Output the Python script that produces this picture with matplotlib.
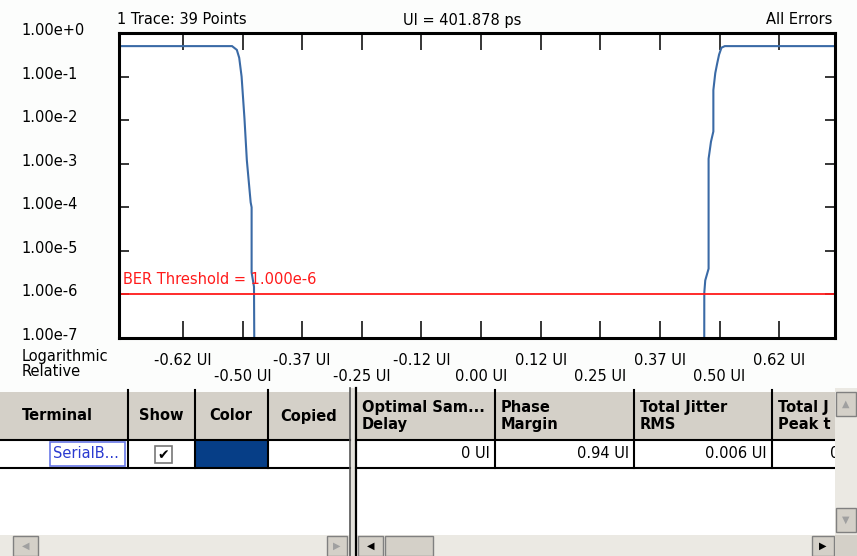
import numpy as np
import matplotlib
matplotlib.use("Agg")
import matplotlib.pyplot as plt
import matplotlib.transforms as mtransforms
from matplotlib.patches import Rectangle

# bathtub trace (one trace)
x_ui = [-0.759, -0.522, -0.512, -0.507, -0.502, -0.496, -0.491, -0.483,
        -0.481, -0.481, -0.476, -0.473, 0.4675, 0.468, 0.470, 0.477, 0.477,
        0.482, 0.487, 0.487, 0.491, 0.495, 0.499, 0.504, 0.511, 0.742]
ber = [0.5, 0.5, 0.41, 0.27, 0.10, 1.1e-2, 1.2e-3, 1.3e-4,
       1.0e-4, 3.2e-6, 1.5e-6, 1e-12, 1e-12, 1.1e-6, 2.1e-6, 3.9e-6, 1.3e-3,
       3.2e-3, 5.5e-3, 4.9e-2, 0.12, 0.20, 0.32, 0.46, 0.5, 0.5]
ber_threshold = 1e-6

x_ticks = [-0.625, -0.5, -0.375, -0.25, -0.125, 0.0, 0.125, 0.25, 0.375, 0.5, 0.625]
x_tick_labels = ["-0.62 UI", "-0.50 UI", "-0.37 UI", "-0.25 UI", "-0.12 UI", "0.00 UI",
                 "0.12 UI", "0.25 UI", "0.37 UI", "0.50 UI", "0.62 UI"]
y_ticks = [1e0, 1e-1, 1e-2, 1e-3, 1e-4, 1e-5, 1e-6, 1e-7]
y_tick_labels = ["1.00e+0", "1.00e-1", "1.00e-2", "1.00e-3", "1.00e-4",
                 "1.00e-5", "1.00e-6", "1.00e-7"]

# table contents
col_edges = [0, 128, 195, 268, 350]          # left pane
col_edges_r = [356, 495, 634, 772, 835]      # right pane
headers_left = ["Terminal", "Show", "Color", "Copied"]
headers_right = ["Optimal Sam...\nDelay", "Phase\nMargin", "Total Jitter\nRMS", "Total J\nPeak t"]
row_values = ["0 UI", "0.94 UI", "0.006 UI", "0"]
terminal_name = "SerialB..."

FS = 10.5
W, H = 857, 556
fig = plt.figure(figsize=(W / 100, H / 100), dpi=100)
fig.patch.set_facecolor("#fcfdfc")

# overlay axes in pixel coords for the surrounding widgets
ui = fig.add_axes([0, 0, 1, 1], zorder=0)
ui.set_xlim(0, W)
ui.set_ylim(H, 0)
ui.axis("off")

# main plot
L, R, T, B = 119, 835, 33, 338
ax = fig.add_axes([L / W, 1 - B / H, (R - L) / W, (B - T) / H], zorder=2)
ax.plot(x_ui, ber, color="#3a6aa6", lw=1.5, solid_joinstyle="miter")
ax.axhline(ber_threshold, color="#ff1a1a", lw=1.3)
ax.text(0.005, ber_threshold * 1.5, "BER Threshold = 1.000e-6", color="#ff1a1a",
        fontsize=FS, transform=ax.get_yaxis_transform(), va="bottom", ha="left")
ax.set_yscale("log")
ax.set_ylim(1e-7, 1e0)
ax.set_xlim(-0.759, 0.742)
ax.minorticks_off()
for s in ax.spines.values():
    s.set_linewidth(2.2)

ax.set_xticks(x_ticks)
ax.set_xticklabels([lab if i % 2 == 0 else "\n" + lab for i, lab in enumerate(x_tick_labels)],
                   fontsize=FS, va="top", linespacing=1.1)
ax.tick_params(axis="x", direction="in", length=12, width=1.1, top=True, bottom=True, pad=11)
ax.set_yticks(y_ticks)
ax.set_yticklabels(y_tick_labels, fontsize=FS, ha="left")
ax.tick_params(axis="y", direction="in", length=7, width=1.1, left=True, right=True, pad=70)
shift = mtransforms.ScaledTranslation(0, 4 / 100, fig.dpi_scale_trans)
for lab in ax.get_yticklabels():
    lab.set_transform(lab.get_transform() + shift)

# texts around the plot
ui.text(117, 20, "1 Trace: 39 Points", fontsize=FS, va="center", ha="left")
ui.text(462, 20, "UI = 401.878 ps", fontsize=FS, va="center", ha="center")
ui.text(832, 20, "All Errors", fontsize=FS, va="center", ha="right")
ui.text(22, 364, "Logarithmic\nRelative", fontsize=FS, va="center", ha="left", linespacing=1.05)

# ---- table ----
gray = "#d4d0c8"
track = "#ebe9e3"
ui.add_patch(Rectangle((0, 392), 835, 48, facecolor=gray, edgecolor="none"))
ui.add_patch(Rectangle((0, 440), 835, 95, facecolor="white", edgecolor="none"))
for x0, x1 in [(0, 350), (356, 835)]:
    ui.plot([x0, x1], [440, 440], color="black", lw=1.5)
    ui.plot([x0, x1], [468, 468], color="black", lw=1.5)
for xe in col_edges[1:4] + col_edges_r[1:4]:
    ui.plot([xe, xe], [390, 468], color="black", lw=1.5)

# splitter between panes
ui.add_patch(Rectangle((350, 388), 6, 168, facecolor="#e4e2dc", edgecolor="none"))
ui.plot([350, 350], [388, 556], color="#555555", lw=1.2)
ui.plot([356, 356], [388, 556], color="black", lw=1.6)

hdr_x = [57, 161, 231, 309]
for hx, h in zip(hdr_x, headers_left):
    ui.text(hx, 416, h, fontsize=FS, fontweight="bold", ha="center", va="center")
for xe, h in zip(col_edges_r[:4], headers_right):
    ui.text(xe + 6, 416, h, fontsize=FS, fontweight="bold", ha="left", va="center",
            linespacing=1.2)

# data row
ui.add_patch(Rectangle((50, 442), 75, 24, facecolor="white", edgecolor="#6878e8", lw=1.2))
ui.text(53, 454, terminal_name, fontsize=FS, color="#2a3ad0", ha="left", va="center")
ui.add_patch(Rectangle((155, 446), 17, 17, facecolor="white", edgecolor="#777777", lw=1.2))
ui.text(163.5, 455, "\u2714", fontsize=10, ha="center", va="center")
ui.add_patch(Rectangle((196, 441), 72, 26, facecolor="#063e87", edgecolor="none"))
value_right = [490, 629, 767, 839]
for xr, v in zip(value_right, row_values):
    ui.text(xr, 454, v, fontsize=FS, ha="right", va="center")

# vertical scrollbar (drawn above the clipped header/cell text)
ui.add_patch(Rectangle((835, 388), 22, 147, facecolor=track, edgecolor="none", zorder=5))
for y0, arrow in [(392, "\u25b2"), (508, "\u25bc")]:
    ui.add_patch(Rectangle((836, y0), 20, 24, facecolor=gray, edgecolor="#808080", lw=1, zorder=6))
    ui.text(846, y0 + 12, arrow, fontsize=7, color="#a0a0a0", ha="center", va="center", zorder=7)
ui.add_patch(Rectangle((835, 535), 22, 21, facecolor=gray, edgecolor="none", zorder=5))

# horizontal scrollbars
ui.add_patch(Rectangle((0, 535), 350, 21, facecolor=track, edgecolor="none"))
ui.add_patch(Rectangle((356, 535), 479, 21, facecolor=track, edgecolor="none"))
buttons = [(13, 25, "\u25c0", "#a0a0a0"), (327, 20, "\u25b6", "#a0a0a0"),
           (358, 25, "\u25c0", "black"), (812, 22, "\u25b6", "black")]
for x0, w, arrow, c in buttons:
    ui.add_patch(Rectangle((x0, 536), w, 20, facecolor=gray, edgecolor="#808080", lw=1))
    ui.text(x0 + w / 2, 546, arrow, fontsize=7, color=c, ha="center", va="center")
ui.add_patch(Rectangle((385, 536), 48, 20, facecolor=gray, edgecolor="#808080", lw=1))

fig.savefig("out.png", dpi=100, facecolor=fig.get_facecolor())
